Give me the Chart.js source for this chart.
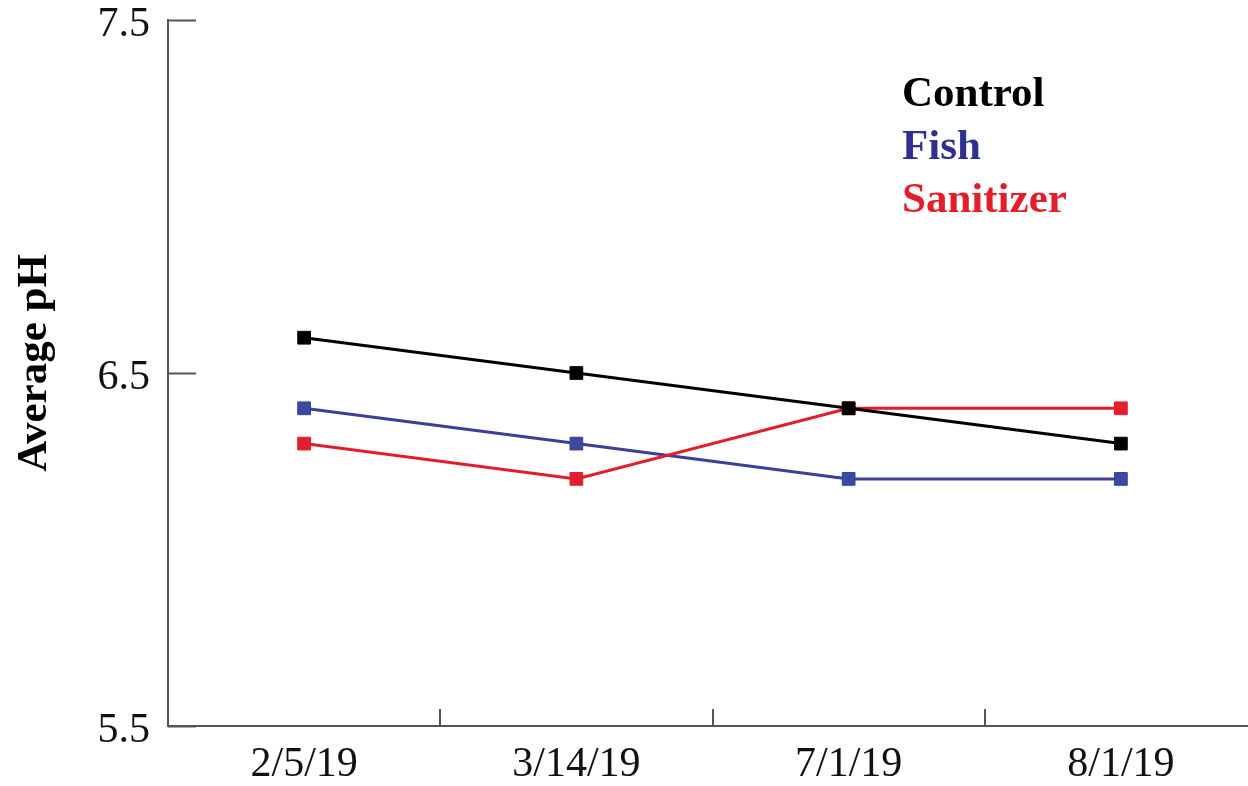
<!DOCTYPE html>
<html>
<head>
<meta charset="utf-8">
<script src="https://cdn.jsdelivr.net/npm/chart.js@4.4.1/dist/chart.umd.min.js"></script>
<style>
  html, body { margin: 0; padding: 0; background: #fff; }
  #wrap { width: 1248px; height: 786px; overflow: hidden; }
</style>
</head>
<body>
<div id="wrap"><canvas id="mycanvas" width="1267" height="786"></canvas></div>
<script>
// sampling dates and average pH per treatment
var dates = ['2/5/19', '3/14/19', '7/1/19', '8/1/19'];
var control = [6.6, 6.5, 6.4, 6.3];
var fish = [6.4, 6.3, 6.2, 6.2];
var sanitizer = [6.3, 6.2, 6.4, 6.4];
var yTicks = [5.5, 6.5, 7.5];

var serif = '"Liberation Serif", "Times New Roman", serif';
var axisColor = '#555555';

// tick marks drawn on the inside of both axes, plus the text legend and y title
var extras = {
  id: 'extras',
  afterDraw: function(chart) {
    var ctx = chart.ctx;
    var xs = chart.scales.x, ys = chart.scales.y;
    var area = chart.chartArea;
    ctx.save();
    ctx.strokeStyle = axisColor;
    ctx.lineWidth = 2;
    ctx.beginPath();
    for (var i = 0; i < yTicks.length; i++) {
      var py = Math.round(ys.getPixelForValue(yTicks[i])) + 0.5;
      ctx.moveTo(area.left, py);
      ctx.lineTo(area.left + 28, py);
    }
    for (var j = 0; j < dates.length - 1; j++) {
      var px = Math.round((xs.getPixelForValue(j) + xs.getPixelForValue(j + 1)) / 2);
      ctx.moveTo(px, area.bottom);
      ctx.lineTo(px, area.bottom - 17);
    }
    ctx.stroke();

    // legend
    ctx.font = 'bold 43px ' + serif;
    ctx.textBaseline = 'middle';
    ctx.textAlign = 'left';
    var names = ['Control', 'Fish', 'Sanitizer'];
    var cols = ['#000000', '#2e3192', '#e31e2a'];
    for (var k = 0; k < names.length; k++) {
      ctx.fillStyle = cols[k];
      ctx.fillText(names[k], 902, 95 + k * 53);
    }

    // y axis title
    ctx.translate(35, 363);
    ctx.rotate(-Math.PI / 2);
    ctx.textAlign = 'center';
    ctx.fillStyle = '#000';
    ctx.fillText('Average pH', 0, 0);
    ctx.restore();
  }
};

function series(label, data, line, fill, order) {
  return {
    label: label,
    data: data,
    borderColor: line,
    borderWidth: 3,
    pointStyle: 'rect',
    pointRadius: 9,
    pointBackgroundColor: fill,
    pointBorderColor: line,
    pointBorderWidth: 1,
    order: order,
    tension: 0
  };
}

new Chart(document.getElementById('mycanvas'), {
  type: 'line',
  data: {
    labels: dates,
    datasets: [
      series('Control', control, '#000000', '#000000', 0),
      series('Fish', fish, '#3c3f98', '#3a4a9e', 2),
      series('Sanitizer', sanitizer, '#e31e2a', '#e02030', 1)
    ]
  },
  options: {
    responsive: false,
    animation: false,
    layout: { padding: { top: 20, right: 2, left: 0, bottom: 0 } },
    plugins: { legend: { display: false }, tooltip: { enabled: false } },
    scales: {
      x: {
        offset: true,
        grid: { display: false, drawTicks: false },
        border: { color: axisColor, width: 2 },
        ticks: { color: '#111', font: { family: serif, size: 42 }, padding: 14, maxRotation: 0 },
        afterFit: function(s) { s.height = 60; s.paddingLeft = 0; s.paddingRight = 0; }
      },
      y: {
        min: 5.5,
        max: 7.5,
        afterBuildTicks: function(s) { s.ticks = yTicks.map(function(v) { return { value: v }; }); },
        grid: { display: false, drawTicks: false },
        border: { color: axisColor, width: 2 },
        ticks: {
          color: '#111',
          font: { family: serif, size: 42 },
          padding: 18,
          labelOffset: 5,
          callback: function(v) { return v.toFixed(1); }
        },
        afterFit: function(s) { s.width = 168; s.paddingTop = 0; s.paddingBottom = 0; }
      }
    }
  },
  plugins: [extras]
});
</script>
</body>
</html>
